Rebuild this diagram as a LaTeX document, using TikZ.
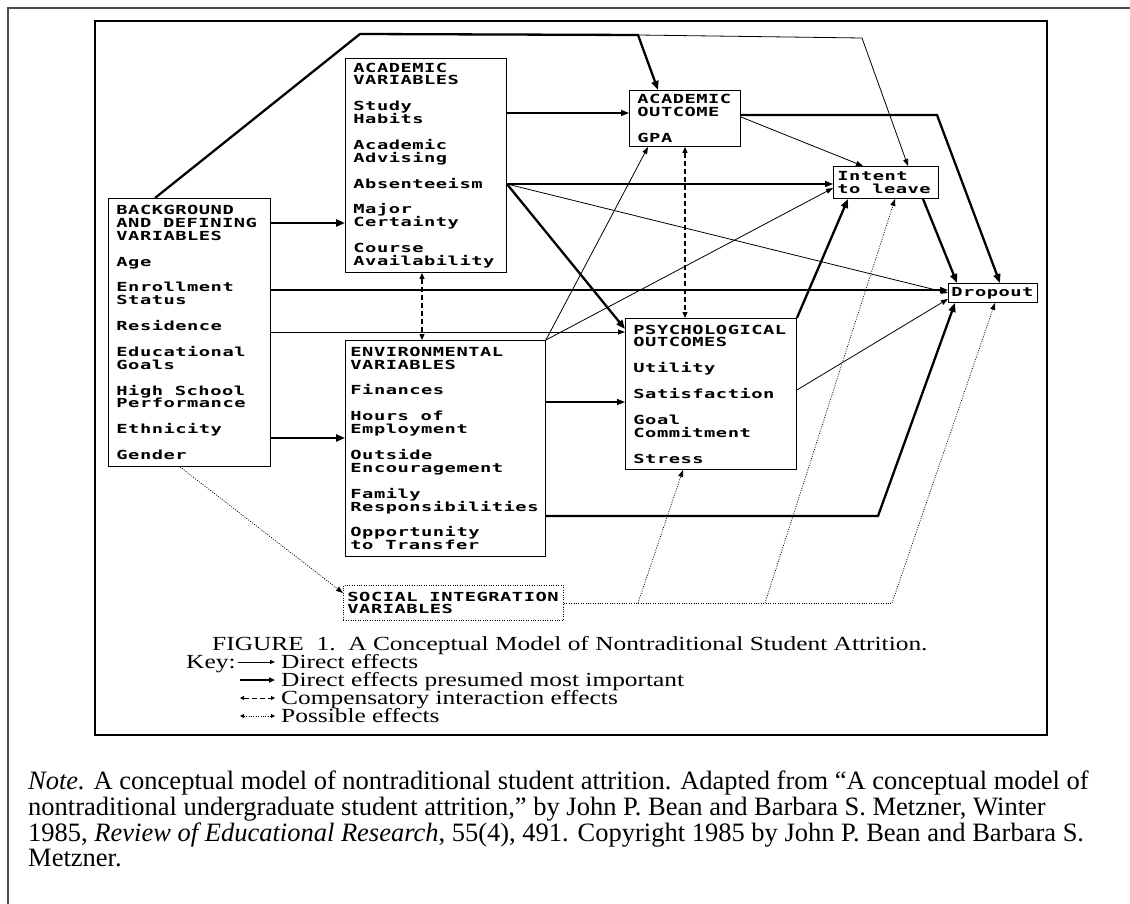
\documentclass[tikz,border=0pt]{standalone}
\usepackage{fontspec}
\setmainfont{Liberation Serif}
\newfontfamily\dotfont{DejaVu Sans Mono}[FakeStretch=1.5,LetterSpace=4]
\newfontfamily\scanfont{Liberation Serif}[FakeStretch=1.27]
\usetikzlibrary{arrows.meta}
\newcommand\grpsep{\\[12.9pt]}
\newcommand\wsp{\hspace{11.8pt}}
\tikzset{
  varbox/.style={draw, line width=0.9pt, anchor=north west, align=left,
    inner xsep=8pt, inner ysep=3pt,
    font={\dotfont\bfseries\fontsize{12.5pt}{12.9pt}\selectfont}},
  direct/.style={-{Triangle[length=7pt,width=5pt]}, line width=0.8pt},
  directmid/.style={-{Triangle[length=8pt,width=6pt]}, line width=1.4pt},
  important/.style={-{Triangle[length=9pt,width=7pt]}, line width=2.3pt},
  compens/.style={{Triangle[length=6pt,width=5pt]}-{Triangle[length=6pt,width=5pt]},
    line width=1.1pt, dash pattern=on 5pt off 3pt},
  possible/.style={-{Triangle[length=7pt,width=5pt]}, line width=0.7pt,
    dash pattern=on 1pt off 1.4pt},
  keytext/.style={anchor=base west, inner sep=0pt,
    font={\scanfont\fontsize{20pt}{18pt}\selectfont}},
  notetext/.style={anchor=base west, inner sep=0pt,
    font={\fontsize{26.5pt}{26pt}\selectfont}}
}
\begin{document}
\begin{tikzpicture}[x=1pt,y=1pt,yscale=-1]
  \useasboundingbox (0,0) rectangle (1130,904);
  % frames
  \draw[line width=1.2pt, black!70] (8,904) -- (8,8) -- (1130,8);
  \draw[line width=2.5pt] (95,21) rectangle (1047,735);

  % boxes
  \node[varbox, text width=146pt, minimum height=268pt] (bg) at (108,198)
    {BACKGROUND\\AND\wsp DEFINING\\VARIABLES\grpsep Age\grpsep Enrollment\\Status\grpsep
     Residence\grpsep Educational\\Goals\grpsep High\wsp School\\Performance\grpsep
     Ethnicity\grpsep Gender};
  \node[varbox, text width=145pt, minimum height=214pt] (acv) at (345,58)
    {ACADEMIC\\VARIABLES\grpsep Study\\Habits\grpsep Academic\\Advising\grpsep
     Absenteeism\grpsep Major\\Certainty\grpsep Course\\Availability};
  \node[varbox, inner xsep=5pt, text width=190pt, minimum height=216pt] (env) at (345,340)
    {ENVIRONMENTAL\\VARIABLES\grpsep Finances\grpsep Hours\wsp of\\Employment\grpsep
     Outside\\Encouragement\grpsep Family\\Responsibilities\grpsep Opportunity\\to\wsp Transfer};
  \node[varbox, text width=95pt, minimum height=56pt] (aco) at (629,90)
    {ACADEMIC\\OUTCOME\grpsep GPA};
  \node[varbox, text width=155pt, minimum height=151pt] (psy) at (625,318)
    {PSYCHOLOGICAL\\OUTCOMES\grpsep Utility\grpsep Satisfaction\grpsep
     Goal\\Commitment\grpsep Stress};
  \node[varbox, inner xsep=4pt, text width=97pt, minimum height=32pt] (itl) at (833,166)
    {Intent\\to\wsp leave};
  \node[varbox, inner xsep=3pt, text width=83pt, minimum height=19pt] (dro) at (948,283)
    {Dropout};
  \node[varbox, dash pattern=on 1pt off 1.4pt, inner xsep=4pt, text width=212pt,
    minimum height=35pt] (soc) at (343,585) {SOCIAL\wsp INTEGRATION\\VARIABLES};

  % levels and bends
  \coordinate (lvStudy) at (0,113);
  \coordinate (lvGpa) at (0,115);
  \coordinate (lvAbs) at (0,184);
  \coordinate (lvAcad) at (0,223);
  \coordinate (lvEnroll) at (0,290);
  \coordinate (lvRes) at (0,332);
  \coordinate (lvFin) at (0,402);
  \coordinate (lvEnv) at (0,438);
  \coordinate (lvFam) at (0,516);
  \coordinate (lvSoc) at (0,603);
  \coordinate (topL) at (360,34);
  \coordinate (topM) at (638,35);
  \coordinate (topR) at (862,38);
  \coordinate (gpaTurn) at (937,115);
  \coordinate (famTurn) at (878,516);
  \coordinate (socA) at (638,603);
  \coordinate (socB) at (765,603);
  \coordinate (socC) at (892,603);
  \coordinate (dashA) at (422,0);
  \coordinate (dashB) at (685,0);

  % background variables
  \draw[important] (bg.east |- lvAcad) -- (acv.west |- lvAcad);
  \draw[important] (bg.east |- lvEnv) -- (env.west |- lvEnv);
  \draw[directmid] (bg.east |- lvEnroll) -- (dro.west |- lvEnroll);
  \draw[direct] (bg.east |- lvRes) -- (psy.west |- lvRes);
  \draw[important] ([xshift=47pt]bg.north west) -- (topL) -- (topM) -- ([xshift=29pt]aco.north west);
  \draw[direct] (topM) -- (topR) -- ([xshift=75pt]itl.north west);
  \draw[possible] ([xshift=72pt]bg.south west) -- ([yshift=8pt]soc.north west);

  % academic variables
  \draw[directmid] (acv.east |- lvStudy) -- (aco.west |- lvStudy);
  \draw[directmid] (acv.east |- lvAbs) -- (itl.west |- lvAbs);
  \draw[direct] (acv.east |- lvAbs) -- (dro.west);
  \draw[important] (acv.east |- lvAbs) -- ([yshift=11pt]psy.north west);
  \draw[compens] (acv.south -| dashA) -- (env.north -| dashA);

  % environmental variables
  \draw[direct] (env.north east) -- ([xshift=19pt]aco.south west);
  \draw[direct] (env.north east) -- ([yshift=22pt]itl.north west);
  \draw[directmid] (env.east |- lvFin) -- (psy.west |- lvFin);
  \draw[important] (env.east |- lvFam) -- (famTurn) -- ([xshift=7pt]dro.south west);

  % outcomes
  \draw[compens] (aco.south -| dashB) -- (psy.north -| dashB);
  \draw[direct] ([yshift=27pt]aco.north east) -- ([xshift=30pt]itl.north west);
  \draw[important] (aco.east |- lvGpa) -- (gpaTurn) -- ([xshift=52pt]dro.north west);
  \draw[important] (psy.north east) -- ([xshift=15pt]itl.south west);
  \draw[direct] ([yshift=72pt]psy.north east) -- ([yshift=-4pt]dro.south west);
  \draw[important] ([xshift=90pt]itl.south west) -- ([xshift=9pt]dro.north west);

  % social integration
  \draw[possible, -] (soc.east |- lvSoc) -- (socC);
  \draw[possible] (socA) -- ([xshift=58pt]psy.south west);
  \draw[possible] (socB) -- ([xshift=62pt]itl.south west);
  \draw[possible] (socC) -- ([xshift=47pt]dro.south west);

  % caption and key
  \node[keytext] (cap) at (212,650) {FIGURE\ \ 1.\ \ A Conceptual Model of Nontraditional Student Attrition.};
  \node[keytext] (key) at (186,668) {Key:};
  \node[keytext] (k1) at (281,668) {Direct effects};
  \node[keytext] (k2) at (281,686) {Direct effects presumed most important};
  \node[keytext] (k3) at (281,704) {Compensatory interaction effects};
  \node[keytext] (k4) at (281,722) {Possible effects};
  \coordinate (k1a) at (238,662); \coordinate (k1b) at (275,662);
  \coordinate (k2a) at (240,680); \coordinate (k2b) at (275,680);
  \coordinate (k3a) at (240,698); \coordinate (k3b) at (275,698);
  \coordinate (k4a) at (240,716); \coordinate (k4b) at (275,716);
  \draw[-{Triangle[length=5pt,width=4pt]}, line width=0.8pt] (k1a) -- (k1b);
  \draw[-{Triangle[length=6pt,width=5pt]}, line width=2pt] (k2a) -- (k2b);
  \draw[compens, line width=0.9pt, {Triangle[length=4pt,width=4pt]}-{Triangle[length=4pt,width=4pt]}] (k3a) -- (k3b);
  \draw[possible, line width=0.9pt, {Triangle[length=4pt,width=4pt]}-{Triangle[length=4pt,width=4pt]}] (k4a) -- (k4b);

  % note
  \node[notetext] (note1) at (28,789) {\textit{Note.} A conceptual model of nontraditional student attrition. Adapted from “A conceptual model of};
  \node[notetext] (note2) at (28,815) {nontraditional undergraduate student attrition,” by John P. Bean and Barbara S. Metzner, Winter};
  \node[notetext] (note3) at (28,841) {1985, \textit{Review of Educational Research}, 55(4), 491. Copyright 1985 by John P. Bean and Barbara S.};
  \node[notetext] (note4) at (28,866) {Metzner.};
\end{tikzpicture}
\end{document}
